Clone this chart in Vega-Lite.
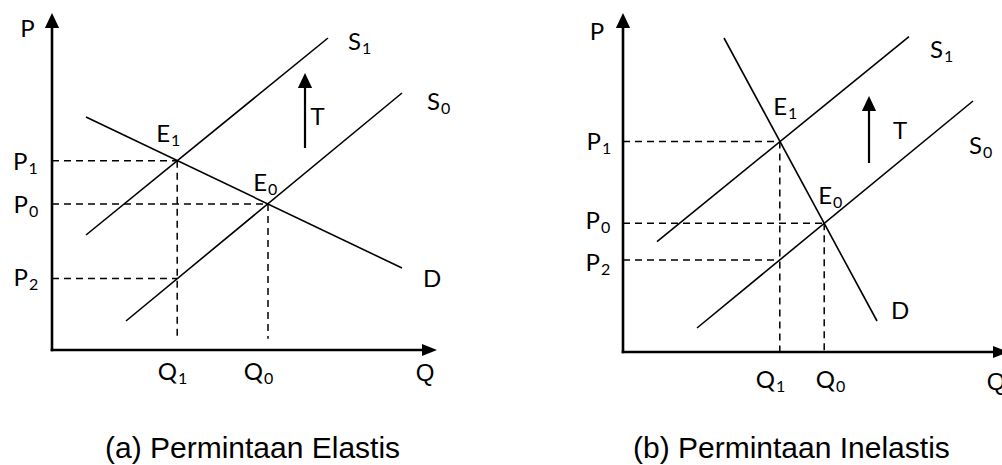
{
  "$schema": "https://vega.github.io/schema/vega-lite/v6.json",
  "padding": 0,
  "spacing": 0,
  "bounds": "flush",
  "background": "white",
  "config": {"view": {"stroke": null}},
  "datasets": {
    "seg": [
      {"panel": "a", "kind": "curve", "name": "S1", "q": 0.85, "p": 2.875, "q2": 6.9, "p2": 7.8},
      {"panel": "a", "kind": "curve", "name": "S0", "q": 1.85, "p": 0.725, "q2": 8.75, "p2": 6.425},
      {"panel": "a", "kind": "curve", "name": "D", "q": 0.85, "p": 5.825, "q2": 8.75, "p2": 2.05},
      {"panel": "a", "kind": "dash", "name": "P1", "q": 0, "p": 4.73, "q2": 3.13, "p2": 4.73},
      {"panel": "a", "kind": "dash", "name": "P0", "q": 0, "p": 3.65, "q2": 5.4, "p2": 3.65},
      {"panel": "a", "kind": "dash", "name": "P2", "q": 0, "p": 1.79, "q2": 3.13, "p2": 1.79},
      {"panel": "a", "kind": "dash", "name": "Q1", "q": 3.13, "p": 4.73, "q2": 3.13, "p2": 0.28},
      {"panel": "a", "kind": "dash", "name": "Q0", "q": 5.4, "p": 3.65, "q2": 5.4, "p2": 0.28},
      {"panel": "a", "kind": "axis", "name": "Paxis", "q": 0, "p": 0, "q2": 0, "p2": 8.2},
      {"panel": "a", "kind": "axis", "name": "Qaxis", "q": 0, "p": 0, "q2": 9.4, "p2": 0},
      {"panel": "a", "kind": "tax", "name": "T", "q": 6.325, "p": 5.05, "q2": 6.325, "p2": 6.7},
      {"panel": "b", "kind": "curve", "name": "S1", "q": 0.85, "p": 2.76, "q2": 7.15, "p2": 7.885},
      {"panel": "b", "kind": "curve", "name": "S0", "q": 1.85, "p": 0.6, "q2": 8.75, "p2": 6.275},
      {"panel": "b", "kind": "curve", "name": "D", "q": 2.525, "p": 7.85, "q2": 6.35, "p2": 0.775},
      {"panel": "b", "kind": "dash", "name": "P1", "q": 0, "p": 5.26, "q2": 3.92, "p2": 5.26},
      {"panel": "b", "kind": "dash", "name": "P0", "q": 0, "p": 3.22, "q2": 5.03, "p2": 3.22},
      {"panel": "b", "kind": "dash", "name": "P2", "q": 0, "p": 2.3, "q2": 3.92, "p2": 2.3},
      {"panel": "b", "kind": "dash", "name": "Q1", "q": 3.92, "p": 5.26, "q2": 3.92, "p2": 0},
      {"panel": "b", "kind": "dash", "name": "Q0", "q": 5.03, "p": 3.22, "q2": 5.03, "p2": 0},
      {"panel": "b", "kind": "axis", "name": "Paxis", "q": 0, "p": 0, "q2": 0, "p2": 8.25},
      {"panel": "b", "kind": "axis", "name": "Qaxis", "q": 0, "p": 0, "q2": 9.4, "p2": 0},
      {"panel": "b", "kind": "tax", "name": "T", "q": 6.15, "p": 4.725, "q2": 6.15, "p2": 6.18}
    ],
    "head": [
      {"panel": "a", "dir": "up", "q": 0, "p": 8.2375},
      {"panel": "a", "dir": "up", "q": 6.325, "p": 6.7375},
      {"panel": "a", "dir": "right", "q": 9.4375, "p": 0},
      {"panel": "b", "dir": "up", "q": 0, "p": 8.2875},
      {"panel": "b", "dir": "up", "q": 6.15, "p": 6.2125},
      {"panel": "b", "dir": "right", "q": 9.4375, "p": 0}
    ],
    "lab": [
      {"panel": "a", "role": "sub", "main": "P", "sub": "1", "q": -0.6125, "p": 4.6875},
      {"panel": "a", "role": "sub", "main": "P", "sub": "0", "q": -0.6, "p": 3.6},
      {"panel": "a", "role": "sub", "main": "P", "sub": "2", "q": -0.6, "p": 1.7875},
      {"panel": "a", "role": "sub", "main": "E", "sub": "1", "q": 2.95, "p": 5.375},
      {"panel": "a", "role": "sub", "main": "E", "sub": "0", "q": 5.375, "p": 4.1625},
      {"panel": "a", "role": "sub", "main": "S", "sub": "1", "q": 7.725, "p": 7.6875},
      {"panel": "a", "role": "sub", "main": "S", "sub": "0", "q": 9.7, "p": 6.1875},
      {"panel": "a", "role": "sub", "main": "Q", "sub": "1", "q": 3.125, "p": -0.575},
      {"panel": "a", "role": "sub", "main": "Q", "sub": "0", "q": 5.275, "p": -0.575},
      {"panel": "a", "role": "single", "main": "P", "sub": "", "q": -0.6125, "p": 8.0},
      {"panel": "a", "role": "single", "main": "D", "sub": "", "q": 9.5, "p": 1.75},
      {"panel": "a", "role": "arial", "main": "T", "sub": "", "q": 6.6375, "p": 5.8},
      {"panel": "a", "role": "arial", "main": "Q", "sub": "", "q": 9.325, "p": -0.6},
      {"panel": "a", "role": "caption", "main": "(a) Permintaan Elastis", "sub": "", "q": 1.325, "p": -2.7},
      {"panel": "b", "role": "sub", "main": "P", "sub": "1", "q": -0.55, "p": 5.225},
      {"panel": "b", "role": "sub", "main": "P", "sub": "0", "q": -0.575, "p": 3.2625},
      {"panel": "b", "role": "sub", "main": "P", "sub": "2", "q": -0.575, "p": 2.2125},
      {"panel": "b", "role": "sub", "main": "E", "sub": "1", "q": 4.1, "p": 6.1},
      {"panel": "b", "role": "sub", "main": "E", "sub": "0", "q": 5.225, "p": 3.8875},
      {"panel": "b", "role": "sub", "main": "S", "sub": "1", "q": 8.0, "p": 7.5375},
      {"panel": "b", "role": "sub", "main": "S", "sub": "0", "q": 8.975, "p": 5.1375},
      {"panel": "b", "role": "sub", "main": "Q", "sub": "1", "q": 3.8, "p": -0.725},
      {"panel": "b", "role": "sub", "main": "Q", "sub": "0", "q": 5.3, "p": -0.725},
      {"panel": "b", "role": "single", "main": "P", "sub": "", "q": -0.65, "p": 7.9875},
      {"panel": "b", "role": "single", "main": "D", "sub": "", "q": 6.925, "p": 1.0125},
      {"panel": "b", "role": "arial", "main": "T", "sub": "", "q": 6.925, "p": 5.5},
      {"panel": "b", "role": "arial", "main": "Q", "sub": "", "q": 9.325, "p": -0.775},
      {"panel": "b", "role": "caption", "main": "(b) Permintaan Inelastis", "sub": "", "q": 0.25, "p": -2.65}
    ]
  },
  "hconcat": [
    {
      "width": 501,
      "height": 465,
      "encoding": {
        "x": {"field": "q", "type": "quantitative", "scale": {"domain": [-1.3, 11.225], "nice": false, "zero": false}, "axis": null},
        "y": {"field": "p", "type": "quantitative", "scale": {"domain": [-2.875, 8.75], "nice": false, "zero": false}, "axis": null}
      },
      "layer": [
        {"data": {"name": "seg"}, "transform": [{"filter": "datum.panel == 'a' && datum.kind == 'curve'"}],
         "mark": {"type": "rule", "strokeWidth": 1.6, "color": "black"},
         "encoding": {"x2": {"field": "q2"}, "y2": {"field": "p2"}}},
        {"data": {"name": "seg"}, "transform": [{"filter": "datum.panel == 'a' && datum.kind == 'dash'"}],
         "mark": {"type": "rule", "strokeWidth": 1.5, "color": "black", "strokeDash": [7, 5]},
         "encoding": {"x2": {"field": "q2"}, "y2": {"field": "p2"}}},
        {"data": {"name": "seg"}, "transform": [{"filter": "datum.panel == 'a' && datum.kind == 'axis'"}],
         "mark": {"type": "rule", "strokeWidth": 2.6, "color": "black", "strokeCap": "square"},
         "encoding": {"x2": {"field": "q2"}, "y2": {"field": "p2"}}},
        {"data": {"name": "seg"}, "transform": [{"filter": "datum.panel == 'a' && datum.kind == 'tax'"}],
         "mark": {"type": "rule", "strokeWidth": 2.2, "color": "black"},
         "encoding": {"x2": {"field": "q2"}, "y2": {"field": "p2"}}},
        {"data": {"name": "head"}, "transform": [{"filter": "datum.panel == 'a' && datum.dir == 'up'"}],
         "mark": {"type": "point", "shape": "M0,-1L0.95,1L-0.95,1Z", "filled": true, "size": 225, "color": "black", "opacity": 1, "strokeWidth": 0}},
        {"data": {"name": "head"}, "transform": [{"filter": "datum.panel == 'a' && datum.dir == 'right'"}],
         "mark": {"type": "point", "shape": "M1,0L-1,-0.8L-1,0.8Z", "filled": true, "size": 225, "color": "black", "opacity": 1, "strokeWidth": 0}},
        {"data": {"name": "lab"}, "transform": [{"filter": "datum.panel == 'a' && datum.role == 'sub'"}],
         "mark": {"type": "text", "font": "Lato", "fontSize": 24, "align": "right", "baseline": "middle", "color": "black"},
         "encoding": {"text": {"field": "main"}}},
        {"data": {"name": "lab"}, "transform": [{"filter": "datum.panel == 'a' && datum.role == 'sub'"}],
         "mark": {"type": "text", "font": "Lato", "fontSize": 16, "align": "left", "baseline": "middle", "dy": 6, "dx": 1, "color": "black"},
         "encoding": {"text": {"field": "sub"}}},
        {"data": {"name": "lab"}, "transform": [{"filter": "datum.panel == 'a' && datum.role == 'single'"}],
         "mark": {"type": "text", "font": "Lato", "fontSize": 24, "align": "center", "baseline": "middle", "color": "black"},
         "encoding": {"text": {"field": "main"}}},
        {"data": {"name": "lab"}, "transform": [{"filter": "datum.panel == 'a' && datum.role == 'arial'"}],
         "mark": {"type": "text", "font": "Liberation Sans", "fontSize": 24, "align": "center", "baseline": "middle", "color": "black", "clip": true},
         "encoding": {"text": {"field": "main"}}},
        {"data": {"name": "lab"}, "transform": [{"filter": "datum.panel == 'a' && datum.role == 'caption'"}],
         "mark": {"type": "text", "font": "Liberation Sans", "fontSize": 30, "align": "left", "baseline": "alphabetic", "color": "black", "clip": true},
         "encoding": {"text": {"field": "main"}}}
      ]
    },
    {
      "width": 501,
      "height": 465,
      "encoding": {
        "x": {"field": "q", "type": "quantitative", "scale": {"domain": [-3.05, 9.475], "nice": false, "zero": false}, "axis": null},
        "y": {"field": "p", "type": "quantitative", "scale": {"domain": [-2.825, 8.8], "nice": false, "zero": false}, "axis": null}
      },
      "layer": [
        {"data": {"name": "seg"}, "transform": [{"filter": "datum.panel == 'b' && datum.kind == 'curve'"}],
         "mark": {"type": "rule", "strokeWidth": 1.6, "color": "black"},
         "encoding": {"x2": {"field": "q2"}, "y2": {"field": "p2"}}},
        {"data": {"name": "seg"}, "transform": [{"filter": "datum.panel == 'b' && datum.kind == 'dash'"}],
         "mark": {"type": "rule", "strokeWidth": 1.5, "color": "black", "strokeDash": [7, 5]},
         "encoding": {"x2": {"field": "q2"}, "y2": {"field": "p2"}}},
        {"data": {"name": "seg"}, "transform": [{"filter": "datum.panel == 'b' && datum.kind == 'axis'"}],
         "mark": {"type": "rule", "strokeWidth": 2.6, "color": "black", "strokeCap": "square", "clip": true},
         "encoding": {"x2": {"field": "q2"}, "y2": {"field": "p2"}}},
        {"data": {"name": "seg"}, "transform": [{"filter": "datum.panel == 'b' && datum.kind == 'tax'"}],
         "mark": {"type": "rule", "strokeWidth": 2.2, "color": "black"},
         "encoding": {"x2": {"field": "q2"}, "y2": {"field": "p2"}}},
        {"data": {"name": "head"}, "transform": [{"filter": "datum.panel == 'b' && datum.dir == 'up'"}],
         "mark": {"type": "point", "shape": "M0,-1L0.95,1L-0.95,1Z", "filled": true, "size": 225, "color": "black", "opacity": 1, "strokeWidth": 0}},
        {"data": {"name": "head"}, "transform": [{"filter": "datum.panel == 'b' && datum.dir == 'right'"}],
         "mark": {"type": "point", "shape": "M1,0L-1,-0.8L-1,0.8Z", "filled": true, "size": 225, "color": "black", "opacity": 1, "strokeWidth": 0, "clip": true}},
        {"data": {"name": "lab"}, "transform": [{"filter": "datum.panel == 'b' && datum.role == 'sub'"}],
         "mark": {"type": "text", "font": "Lato", "fontSize": 24, "align": "right", "baseline": "middle", "color": "black"},
         "encoding": {"text": {"field": "main"}}},
        {"data": {"name": "lab"}, "transform": [{"filter": "datum.panel == 'b' && datum.role == 'sub'"}],
         "mark": {"type": "text", "font": "Lato", "fontSize": 16, "align": "left", "baseline": "middle", "dy": 6, "dx": 1, "color": "black"},
         "encoding": {"text": {"field": "sub"}}},
        {"data": {"name": "lab"}, "transform": [{"filter": "datum.panel == 'b' && datum.role == 'single'"}],
         "mark": {"type": "text", "font": "Lato", "fontSize": 24, "align": "center", "baseline": "middle", "color": "black"},
         "encoding": {"text": {"field": "main"}}},
        {"data": {"name": "lab"}, "transform": [{"filter": "datum.panel == 'b' && datum.role == 'arial'"}],
         "mark": {"type": "text", "font": "Liberation Sans", "fontSize": 24, "align": "center", "baseline": "middle", "color": "black", "clip": true},
         "encoding": {"text": {"field": "main"}}},
        {"data": {"name": "lab"}, "transform": [{"filter": "datum.panel == 'b' && datum.role == 'caption'"}],
         "mark": {"type": "text", "font": "Liberation Sans", "fontSize": 30, "align": "left", "baseline": "alphabetic", "color": "black", "clip": true},
         "encoding": {"text": {"field": "main"}}}
      ]
    }
  ]
}
